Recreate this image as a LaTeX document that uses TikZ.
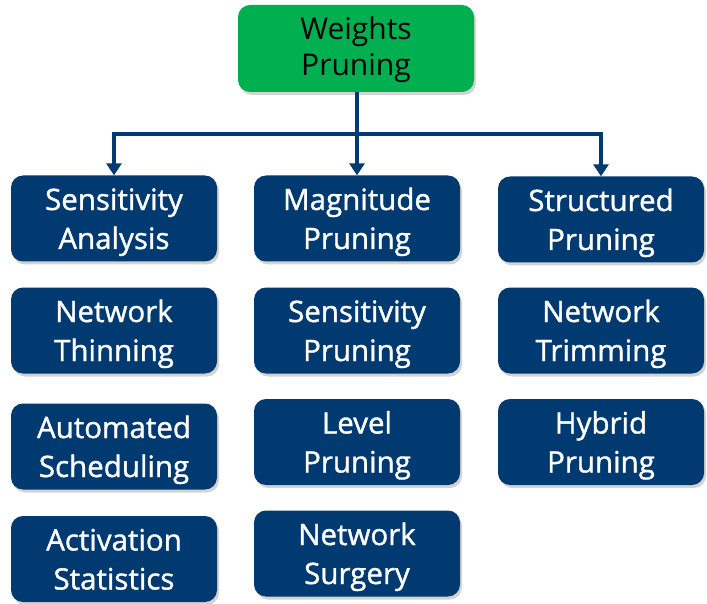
\documentclass[tikz,border=0pt]{standalone}
\usepackage{fontspec}
\setmainfont{Open Sans}
\newfontfamily\medfont{Open Sans}[FakeBold=1.2]
\usetikzlibrary{arrows.meta,shadows}
\definecolor{navy}{HTML}{003A70}
\definecolor{wgreen}{HTML}{00B050}
\newcommand\twolines[3]{\rule{0pt}{#1}#2\\#3\rule[-9pt]{0pt}{9pt}}
\tikzset{
  box/.style={rounded corners=12pt, minimum width=206pt, minimum height=86pt,
    align=center, inner sep=0pt,
    drop shadow={opacity=0.35, shadow xshift=2pt, shadow yshift=-3pt}},
  bluebox/.style={box, fill=navy, text=white, font=\medfont\fontsize{29.5}{39}\selectfont},
  greenbox/.style={box, fill=wgreen, text=black, minimum width=236pt, minimum height=87pt,
    font=\fontsize{30}{36}\selectfont},
  conn/.style={draw=navy, line width=4pt},
  arr/.style={conn, -{Triangle[width=15pt,length=12pt]}}
}
\begin{document}
\begin{tikzpicture}[x=1pt,y=-1pt]
\useasboundingbox (0,0) rectangle (707,604);
\node[greenbox] (top) at (356,48.5) {\twolines{28pt}{Weights}{Pruning}};
\node[bluebox] (sa) at (114,218.5) {\twolines{31pt}{Sensitivity}{Analysis}};
\node[bluebox] (nt) at (114,330.5) {\twolines{31pt}{Network}{Thinning}};
\node[bluebox] (as) at (114,446.5) {\twolines{31pt}{Automated}{Scheduling}};
\node[bluebox] (ast) at (114,559) {\twolines{31pt}{Activation}{Statistics}};
\node[bluebox] (mp) at (357,218.5) {\twolines{31pt}{Magnitude}{Pruning}};
\node[bluebox] (sp) at (357,330.5) {\twolines{31pt}{Sensitivity}{Pruning}};
\node[bluebox] (lp) at (357,442) {\twolines{31pt}{Level}{Pruning}};
\node[bluebox] (ns) at (357,553.5) {\twolines{31pt}{Network}{Surgery}};
\node[bluebox] (stp) at (601,219.5) {\twolines{31pt}{Structured}{Pruning}};
\node[bluebox] (ntr) at (601,330.5) {\twolines{31pt}{Network}{Trimming}};
\node[bluebox] (hp) at (601,442) {\twolines{31pt}{Hybrid}{Pruning}};
\coordinate (j) at (357,134);
\coordinate (jl) at (114,134);
\coordinate (jr) at (601,134);
\draw[arr] (top.south -| j) -- (mp.north);
\draw[arr] (jl) -- (sa.north);
\draw[arr] (jr) -- (stp.north);
\draw[conn] ([xshift=-2pt]jl) -- ([xshift=2pt]jr);
\end{tikzpicture}
\end{document}
